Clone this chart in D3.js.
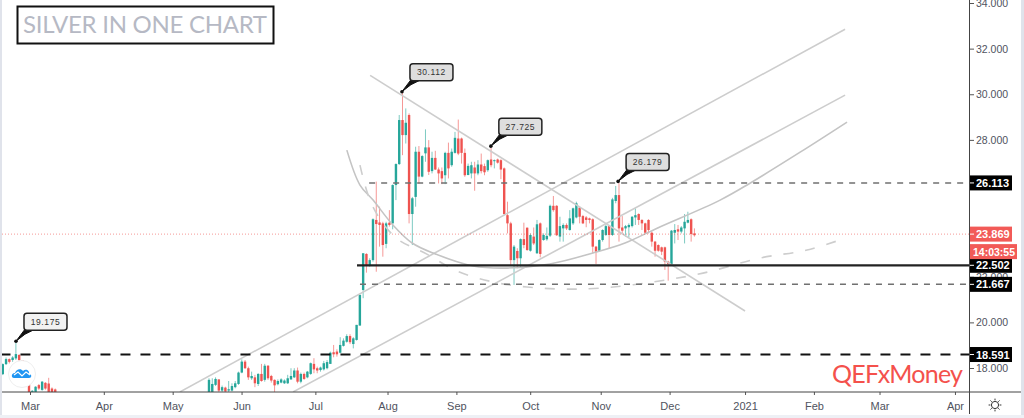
<!DOCTYPE html>
<html>
<head>
<meta charset="utf-8">
<script src="https://cdn.jsdelivr.net/npm/d3@7"></script>
<style>
  html, body { margin: 0; padding: 0; background: #fff; overflow: hidden; }
  svg { display: block; font-family: "Liberation Sans", Arial, sans-serif; }
</style>
</head>
<body>
<svg id="chart" width="1024" height="418"></svg>
<script>
(function () {
  // open, high, low, close
  const earlyStart = -8.3
  const earlyBars = [
    [17.73, 18.2, 17.69, 18.17], [18.17, 18.46, 18.13, 18.39], [18.39, 18.42, 18.2, 18.27],
    [18.35, 18.52, 18.27, 18.46], [18.42, 19.12, 18.35, 18.61], [18.57, 18.61, 18.3, 18.35],
    [18.35, 18.35, 17.6, 17.62], [17.62, 17.62, 17.25, 17.25], [17.29, 17.32, 16.8, 16.9],
    [16.9, 17.03, 16.8, 17.0], [16.9, 17.2, 16.8, 17.18], [17.25, 17.3, 17.04, 17.1],
    [17.04, 17.43, 17.0, 17.4], [17.35, 17.38, 17.05, 17.1], [17.32, 17.57, 16.8, 16.9],
    [17.1, 17.15, 16.8, 16.9], [17.06, 17.1, 16.8, 16.9]
  ]
  const mainStart = 54.57
  const mainBars = [
    [16.9, 17.55, 16.8, 17.48], [16.9, 17.55, 16.8, 17.3], [17.26, 17.59, 17.21, 17.52], [17.5, 17.5, 16.9, 17.01],
    [17.01, 17.23, 16.9, 17.16], [17.14, 17.18, 16.9, 16.97], [17.01, 17.43, 16.9, 17.07], [17.01, 17.33, 16.97, 17.21],
    [17.16, 17.43, 17.11, 17.33], [17.3, 17.84, 17.26, 17.8], [17.8, 18.38, 17.77, 18.28], [18.28, 18.35, 17.96, 17.99],
    [17.99, 18.06, 17.48, 17.59], [17.55, 17.84, 17.48, 17.65], [17.59, 17.7, 17.16, 17.33], [17.3, 17.77, 17.21, 17.74],
    [17.74, 18.18, 17.4, 17.43], [17.48, 18.18, 17.4, 18.1], [18.1, 18.13, 17.48, 17.55], [17.65, 17.7, 17.36, 17.45],
    [17.48, 17.5, 16.9, 17.24], [17.29, 17.5, 17.24, 17.43], [17.36, 17.55, 17.33, 17.5], [17.33, 17.5, 17.3, 17.45],
    [17.33, 17.7, 17.3, 17.55], [17.5, 17.99, 17.48, 17.65], [17.59, 17.99, 17.56, 17.89], [17.89, 18.02, 17.33, 17.4],
    [17.4, 17.8, 17.33, 17.74], [17.74, 17.8, 17.48, 17.52], [17.59, 17.87, 17.55, 17.84], [17.74, 18.24, 17.7, 18.21],
    [18.18, 18.43, 17.77, 17.94], [17.99, 18.06, 17.77, 17.89], [17.91, 18.06, 17.84, 18.02], [17.94, 18.31, 17.89, 18.21],
    [17.99, 18.35, 17.94, 18.26], [18.18, 18.72, 18.18, 18.67], [18.69, 19.01, 18.47, 18.6], [18.72, 18.82, 18.5, 18.6],
    [18.67, 19.35, 18.64, 19.01], [18.97, 19.3, 18.94, 19.2], [19.15, 19.48, 19.11, 19.4], [19.4, 19.48, 19.05, 19.13],
    [19.05, 19.35, 18.86, 19.3], [19.23, 19.89, 19.2, 19.89], [19.86, 21.25, 19.86, 21.2], [21.42, 23.03, 21.06, 23.03],
    [23.0, 23.03, 22.18, 22.5], [22.5, 22.81, 22.44, 22.73], [22.73, 24.56, 22.66, 24.52], [24.49, 26.17, 22.22, 24.31],
    [24.38, 25.07, 23.32, 24.27], [24.34, 24.41, 22.88, 23.39], [23.44, 24.41, 23.25, 24.34], [24.37, 24.92, 24.2, 24.27],
    [24.34, 26.05, 24.08, 26.02], [26.02, 26.97, 25.36, 26.94], [26.94, 29.09, 26.9, 28.87], [28.87, 30.05, 27.33, 28.21],
    [28.21, 29.38, 27.84, 28.75], [29.09, 29.16, 24.34, 24.75], [24.75, 25.5, 23.39, 25.44], [25.5, 27.7, 25.07, 27.48],
    [27.48, 27.73, 26.09, 26.39], [26.39, 27.33, 26.36, 27.29], [27.41, 28.46, 27.04, 27.67], [27.67, 27.99, 26.46, 26.6],
    [26.63, 27.48, 26.53, 27.21], [27.21, 27.52, 26.68, 26.7], [26.7, 26.79, 26.09, 26.53], [26.63, 26.79, 26.06, 26.31],
    [26.45, 27.48, 26.06, 27.43], [27.43, 27.88, 26.31, 26.75], [26.89, 27.62, 26.82, 27.48], [27.43, 28.35, 27.4, 28.09],
    [28.06, 28.89, 27.33, 27.4], [28.06, 28.1, 26.96, 27.43], [27.43, 27.62, 26.38, 26.45], [26.46, 26.96, 26.45, 26.86],
    [26.53, 27.04, 26.31, 26.89], [26.79, 27.04, 25.77, 26.53], [26.53, 27.11, 26.45, 26.92], [26.92, 27.4, 26.53, 26.63],
    [26.85, 26.96, 26.45, 26.58], [26.67, 27.14, 26.6, 27.11], [27.14, 27.65, 26.8, 26.89], [27.07, 27.14, 26.75, 27.11],
    [27.14, 27.18, 26.96, 27.0], [27.11, 27.15, 26.28, 26.7], [26.75, 26.79, 24.7, 24.75], [24.7, 25.29, 23.9, 24.34],
    [24.34, 24.41, 22.5, 22.73], [22.73, 23.39, 21.64, 23.32], [23.13, 23.25, 22.37, 22.81], [22.81, 23.68, 22.41, 23.65],
    [23.65, 24.37, 23.25, 23.39], [24.15, 24.16, 23.14, 23.17], [23.14, 23.9, 23.1, 23.83], [23.76, 24.16, 23.39, 23.46],
    [23.03, 24.49, 23.0, 24.3], [24.34, 24.38, 22.85, 23.0], [23.61, 23.9, 23.58, 23.83], [23.64, 24.16, 23.58, 23.79],
    [23.8, 25.16, 23.74, 25.11], [25.11, 25.54, 24.85, 24.92], [25.11, 25.14, 23.79, 23.82], [23.76, 24.63, 23.54, 24.22],
    [24.12, 24.34, 23.54, 24.27], [24.27, 24.34, 24.05, 24.12], [24.05, 24.92, 24.02, 24.56], [24.34, 25.03, 24.27, 25.0],
    [24.6, 25.29, 24.56, 25.22], [25.03, 25.07, 24.34, 24.63], [24.66, 24.71, 24.31, 24.34], [24.6, 24.66, 24.17, 24.49],
    [24.56, 24.59, 24.34, 24.49], [24.52, 24.56, 23.03, 23.32], [23.32, 23.35, 22.56, 23.1], [23.14, 23.64, 23.1, 23.61],
    [23.61, 24.08, 23.54, 24.05], [23.83, 24.27, 23.79, 24.22], [24.22, 24.25, 23.25, 23.83], [23.83, 25.46, 23.79, 25.39],
    [25.32, 25.98, 25.22, 25.58], [25.58, 26.1, 23.54, 24.12], [24.16, 24.66, 23.9, 24.02], [24.12, 24.27, 23.76, 24.22],
    [24.17, 24.34, 23.73, 24.27], [24.22, 24.66, 24.16, 24.63], [24.6, 25.0, 24.27, 24.7], [24.75, 24.78, 24.27, 24.49],
    [24.49, 24.52, 24.05, 24.34], [24.34, 24.37, 23.9, 23.93], [24.49, 24.52, 23.9, 24.05], [23.93, 23.98, 23.32, 23.54],
    [23.54, 23.57, 22.88, 23.14], [23.39, 23.42, 23.1, 23.14], [23.29, 23.32, 22.95, 23.1], [23.29, 23.32, 22.3, 22.66],
    [22.66, 22.7, 21.83, 22.56], [22.56, 24.05, 22.52, 24.02], [23.93, 24.31, 23.46, 24.05], [24.08, 24.27, 23.61, 23.98],
    [23.98, 24.22, 23.9, 24.16], [24.12, 24.75, 23.46, 24.41], [24.37, 24.85, 24.34, 24.49], [24.52, 24.56, 23.54, 23.87],
    [23.9, 24.12, 23.76, 23.82]
  ]

  // months sit on the bar count, the future bars included
  const monthLabels = ['Mar', 'Apr', 'May', 'Jun', 'Jul', 'Aug', 'Sep', 'Oct', 'Nov', 'Dec', '2021', 'Feb', 'Mar', 'Apr']
  const monthBars = [0, 22.5, 43.5, 64.5, 87, 109, 130, 152.5, 174, 195, 218, 239, 259, 282]
  // 24 and 26 are covered by the price tags in the picture
  const priceTicks = [18, 20, 22, 28, 30, 32, 34]

  const channelUpper = [[45.7, 16.95], [248.5, 32.85]]
  const channelLower = [[80.2, 16.95], [248.5, 29.96]]
  const fallingLine = [[103.7, 30.83], [218, 20.5]]
  const solidArc = [[96.6, 27.55], [100.6, 26.02], [104.6, 25.36], [110.7, 24.26], [116.5, 23.48], [122.9, 23.04],
    [135.1, 22.47], [145.4, 22.38], [158.5, 22.56], [171.6, 23.04], [181.4, 23.48], [191.2, 24.13], [210.4, 25.36],
    [219.5, 26.1], [234.8, 27.46], [249.1, 28.78]]
  const dashedArc = [[100.6, 26.89], [104.3, 25.14], [111.3, 23.74], [121, 22.99], [130.2, 22.25], [141.2, 21.77],
    [151.5, 21.55], [162.5, 21.46], [173.8, 21.5], [189.9, 21.77], [205.2, 22.16], [222.6, 22.82], [236.9, 23.17],
    [248.5, 23.69]]

  const levelPrices = [26.113, 22.502, 21.667, 18.591]
  const levelStartBars = [103.4, 99.7, 100.6, -9]
  const lastPrice = 23.869
  const countdown = '14:03:55'
  const calloutPrices = [19.175, 30.112, 27.725, 26.179]
  const calloutBars = [-4.27, 113.4, 140.5, 179.3]

  const green = '#26a69a'
  const red = '#ef5350'
  const plotLeft = 2
  const plotRight = 969
  const plotBottom = 392

  const svg = d3.select('#chart')
  const x = d3.scaleLinear().domain([0, 280]).range([30, 948.4])
  const y = d3.scaleLinear().domain([18, 34]).range([368, 3])

  svg.append('defs').append('clipPath').attr('id', 'plot')
    .append('rect').attr('x', plotLeft).attr('y', 0).attr('width', plotRight - plotLeft).attr('height', plotBottom)

  // page frame
  svg.append('rect').attr('width', 2).attr('height', 418).attr('fill', '#e0e3eb')
  svg.append('rect').attr('x', 1021).attr('width', 3).attr('height', 418).attr('fill', '#e0e3eb')
  svg.append('rect').attr('y', 415).attr('width', 1024).attr('height', 3).attr('fill', '#eef0f5')

  const bars = earlyBars.map((d, i) => ({ i: earlyStart + i, d }))
    .concat(mainBars.map((d, i) => ({ i: mainStart + i, d })))

  const plot = svg.append('g').attr('clip-path', 'url(#plot)')
  const candle = plot.selectAll('g.candle').data(bars).enter().append('g').attr('class', 'candle')
  const colour = (b) => b.d[3] >= b.d[0] ? green : red

  candle.append('line')
    .attr('x1', (b) => x(b.i)).attr('x2', (b) => x(b.i))
    .attr('y1', (b) => y(b.d[1])).attr('y2', (b) => y(b.d[2]))
    .attr('stroke', colour).attr('stroke-opacity', 0.6).attr('stroke-width', 1)
  candle.append('rect')
    .attr('x', (b) => x(b.i) - 1.2).attr('width', 2.4)
    .attr('y', (b) => y(Math.max(b.d[0], b.d[3])))
    .attr('height', (b) => Math.max(1, Math.abs(y(b.d[0]) - y(b.d[3]))))
    .attr('fill', colour)

  // hand drawn lines
  const straight = d3.line().x((d) => x(d[0])).y((d) => y(d[1]))
  const curved = d3.line().x((d) => x(d[0])).y((d) => y(d[1])).curve(d3.curveCatmullRom)
  const grey = '#cdcdcd'
  ;[channelUpper, channelLower, fallingLine].forEach((pts) => {
    plot.append('path').attr('d', straight(pts)).attr('fill', 'none').attr('stroke', grey).attr('stroke-width', 1.6)
  })
  plot.append('path').attr('d', curved(solidArc)).attr('fill', 'none').attr('stroke', '#c4c4c4').attr('stroke-width', 1.6)
  plot.append('path').attr('d', curved(dashedArc)).attr('fill', 'none').attr('stroke', grey)
    .attr('stroke-width', 1.6).attr('stroke-dasharray', '10 12')

  // last price dots
  plot.append('line').attr('x1', plotLeft).attr('x2', plotRight).attr('y1', y(lastPrice)).attr('y2', y(lastPrice))
    .attr('stroke', red).attr('stroke-opacity', 0.6).attr('stroke-dasharray', '1 2')

  // levels
  const levelWidth = [1.5, 2.2, 1.5, 2]
  const levelColour = ['#707070', '#222', '#707070', '#111']
  const levelDash = ['6 6', null, '6 6', '10 10']
  levelPrices.forEach((p, i) => {
    plot.append('line')
      .attr('x1', x(levelStartBars[i])).attr('x2', plotRight)
      .attr('y1', y(p)).attr('y2', y(p))
      .attr('stroke', levelColour[i]).attr('stroke-width', levelWidth[i])
      .attr('stroke-dasharray', levelDash[i])
  })

  // callouts
  const callout = svg.selectAll('g.callout').data(calloutPrices).enter().append('g').attr('class', 'callout')
    .attr('transform', (p, i) => `translate(${x(calloutBars[i])},${y(p)})`)
  callout.append('path').attr('d', 'M0,0L9,-12L19,-12L9,-7Z')
    .attr('fill', '#111').attr('stroke', '#111').attr('stroke-width', 1)
  callout.append('circle').attr('r', 1.8).attr('fill', '#111')
  callout.append('rect').attr('x', 8).attr('y', -28).attr('width', 43).attr('height', 17).attr('rx', 3)
    .attr('fill', (p, i) => i === 0 ? '#f2f2f2' : '#dedede').attr('stroke', '#222').attr('stroke-width', 1.5)
  callout.append('text').attr('x', 29.5).attr('y', -16.5)
    .attr('text-anchor', 'middle').attr('font-size', 8.5).attr('letter-spacing', 0.6).attr('fill', '#333')
    .text((p) => d3.format('.3f')(p))

  // axes
  const yAxis = svg.append('g').attr('transform', `translate(${plotRight},0)`)
    .call(d3.axisRight(y).tickValues(priceTicks).tickSize(5).tickPadding(2).tickFormat(d3.format('.3f')))
  yAxis.select('.domain').remove()
  yAxis.selectAll('line').attr('stroke', '#555')
  yAxis.selectAll('text').attr('fill', '#50535e').attr('font-size', 10.5)
  svg.append('line').attr('x1', plotRight + 0.5).attr('x2', plotRight + 0.5).attr('y1', 0).attr('y2', 414)
    .attr('stroke', '#444').attr('stroke-width', 1)

  const xAxis = svg.append('g').attr('transform', `translate(0,${plotBottom})`)
    .call(d3.axisBottom(x).tickValues(monthBars).tickSize(3).tickPadding(7).tickFormat((d, i) => monthLabels[i]))
  xAxis.select('.domain').remove()
  xAxis.selectAll('line').attr('stroke', '#555')
  xAxis.selectAll('text').attr('fill', '#50535e').attr('font-size', 11)
  svg.append('line').attr('x1', plotLeft).attr('x2', 1021).attr('y1', plotBottom).attr('y2', plotBottom)
    .attr('stroke', '#444').attr('stroke-width', 1)

  // price labels on the scale
  const tag = (p, text, fill, w) => {
    const g = svg.append('g').attr('transform', `translate(${plotRight + 1},${y(p)})`)
    g.append('rect').attr('y', -7.5).attr('width', w).attr('height', 15).attr('fill', fill)
    g.append('line').attr('x2', 4).attr('stroke', '#fff')
    g.append('text').attr('x', 6).attr('y', 4).attr('fill', '#fff').attr('font-size', 11).attr('font-weight', 600)
      .text(text)
  }
  levelPrices.forEach((p) => tag(p, d3.format('.3f')(p), '#000', 42))
  tag(lastPrice, d3.format('.3f')(lastPrice), '#f25a57', 42)
  const clock = svg.append('g').attr('transform', `translate(${plotRight + 1},${y(lastPrice) + 10})`)
  clock.append('rect').attr('width', 47).attr('height', 15).attr('fill', '#f25a57')
  clock.append('text').attr('x', 3).attr('y', 11.5).attr('fill', '#fff').attr('font-size', 10.5).attr('font-weight', 600).text(countdown)

  // title box and brand
  svg.append('rect').attr('x', 17.5).attr('y', 6.5).attr('width', 256).attr('height', 37)
    .attr('fill', '#fff').attr('stroke', '#111').attr('stroke-width', 2)
  svg.append('text').attr('x', 23).attr('y', 33).attr('font-family', 'Lato').attr('font-size', 24)
    .attr('textLength', 244).attr('fill', '#b6b9c4').text('SILVER IN ONE CHART')
  svg.append('text').attr('x', 832).attr('y', 383).attr('font-family', 'Lato').attr('font-size', 25)
    .attr('textLength', 131).attr('fill', '#f4514c').text('QEFxMoney')

  // round cloud badge
  const badge = svg.append('g').attr('transform', 'translate(22,374)')
  badge.append('circle').attr('r', 13.5).attr('fill', '#fff').attr('stroke', '#eeeeee')
  badge.append('path').attr('d', 'M-8,4C-11,4 -11,-1 -7,-1C-6,-5 -1,-6 1,-3C4,-6 8,-3 7,0C10,0 10,4 7,4Z').attr('fill', '#2196f3')
  badge.append('path').attr('d', 'M-8,1L-4,-2L0,2L4,-2L8,1').attr('fill', 'none').attr('stroke', '#fff').attr('stroke-width', 1.2)

  // settings sun
  const sun = svg.append('g').attr('transform', 'translate(995,405)').attr('stroke', '#333').attr('fill', 'none')
  sun.append('circle').attr('r', 3.6)
  d3.range(8).forEach((k) => {
    const a = k * Math.PI / 4
    sun.append('line').attr('x1', 4.6 * Math.cos(a)).attr('y1', 4.6 * Math.sin(a))
      .attr('x2', 6.4 * Math.cos(a)).attr('y2', 6.4 * Math.sin(a))
  })
})()
</script>
</body>
</html>
